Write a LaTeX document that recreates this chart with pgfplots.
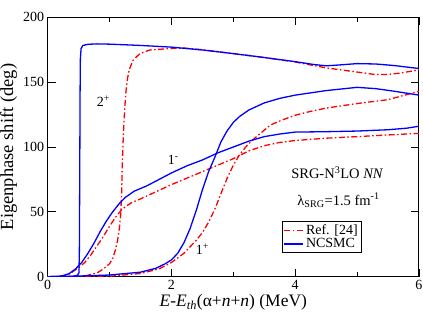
\documentclass[border=0pt]{standalone}
\usepackage{fontspec}
\setmainfont{Liberation Serif}
\usepackage{pgfplots}
\pgfplotsset{compat=1.18}

\begin{document}
\begin{tikzpicture}
\useasboundingbox (-47.7pt,-50.3pt) rectangle (375.3pt,276.7pt);
\begin{axis}[
  scale only axis, width=371.3pt, height=259.4pt,
  at={(0pt,0pt)}, anchor=south west,
  xmin=0, xmax=6, ymin=0, ymax=200,
  xtick={0,2,4,6}, minor xtick={1,3,5},
  ytick={0,50,...,200},
  tick align=inside, major tick length=8pt, minor tick length=4.5pt,
  axis line style={line width=1pt},
  every tick/.style={black, line width=0.8pt},
  tick label style={font=\fontsize{14}{16}\selectfont},
  /pgf/number format/assume math mode=true,
  xlabel={\textit{E}-\textit{E}\textsubscript{\textit{th}}(α+\textit{n}+\textit{n}) (MeV)},
  ylabel={Eigenphase shift (deg)},
  xlabel style={at={(axis description cs:0.5,-0.1157)}, anchor=base, font=\fontsize{17.5}{20}\selectfont},
  ylabel style={at={(axis description cs:-0.105,0.5)}, anchor=center, font=\fontsize{18.5}{20}\selectfont},
  legend style={at={(rel axis cs:0.63,0.216)}, anchor=north west, draw=black, line width=1.2pt,
    font=\fontsize{14}{15}\selectfont, inner sep=1.5pt, row sep=-1.5pt, cells={anchor=west}},
  legend image code/.code={\draw[#1] (0pt,0pt) -- (19pt,0pt);},
  refl/.style={red, line width=1.3pt, dash pattern=on 6pt off 2.5pt on 1.5pt off 2.5pt},
  ncl/.style={blue, line width=1.3pt},
]
% Ref. [24] 2+
\addplot[refl] coordinates {(0,0)(0.4,0.1)(0.6,0.5)(0.8,3)(0.9,6)(1.0,10)(1.05,14)(1.09,20)(1.13,28)(1.16,38)(1.18,48)(1.195,65)(1.205,85)(1.215,100)(1.225,112)(1.245,130)(1.265,143)(1.29,153)(1.32,160)(1.38,167)(1.49,172)(1.65,174.8)(2.0,176)(2.2,176.3)(2.5,175)(3.0,172)(3.5,169)(4.0,165.5)(4.5,161)(5.0,157.8)(5.3,155.8)(5.5,156)(5.7,157)(6.0,159.5)};
\addlegendentry{Ref. [24]}
% Ref. [24] 1-
\addplot[refl, forget plot] coordinates {(0,0)(0.2,0.3)(0.35,2)(0.5,7)(0.6,11)(0.7,17)(0.8,24)(0.9,31)(1.0,39)(1.1,46)(1.2,52)(1.35,57)(1.5,60)(1.75,65.5)(2.0,71)(2.25,76)(2.5,81)(2.75,86)(3.0,91)(3.25,97)(3.5,101)(3.75,103.5)(4.0,105)(4.5,106.8)(5.0,108)(5.5,109.3)(6.0,110.5)};
% Ref. [24] 1+
\addplot[refl, forget plot] coordinates {(0.6,0)(1.0,0.3)(1.5,2.5)(1.8,6)(2.0,11)(2.2,18)(2.4,28)(2.5,34)(2.6,42)(2.7,52)(2.8,64)(2.9,76)(3.0,86)(3.1,94)(3.2,100)(3.3,105)(3.45,111)(3.6,117)(3.8,121)(4.0,124.5)(4.25,127.5)(4.5,130)(5.0,133.5)(5.5,136.5)(6.0,143)};
% NCSMC 2+
\addplot[ncl] coordinates {(0,0)(0.4,0.2)(0.48,1)(0.505,3)(0.512,20)(0.518,80)(0.523,140)(0.528,168)(0.54,176)(0.57,178.3)(0.65,179.2)(0.8,179.5)(1.0,179.3)(1.5,178.3)(2.0,177)(2.5,174.8)(3.0,172)(3.5,169)(4.0,165.8)(4.3,163.6)(4.5,162.6)(4.7,163.2)(5.0,164.3)(5.3,164)(5.6,162.8)(6.0,160.5)};
\addlegendentry{NCSMC}
% NCSMC 1-
\addplot[ncl, forget plot] coordinates {(0,0)(0.15,0.1)(0.25,0.8)(0.35,2.5)(0.45,6)(0.55,11)(0.65,18)(0.75,26)(0.85,35)(0.95,43)(1.05,50)(1.15,56)(1.25,61)(1.4,66)(1.6,70)(1.8,75)(2.0,80)(2.25,85.5)(2.5,90)(2.75,95.5)(3.0,100)(3.25,104.5)(3.5,108)(3.75,110)(4.0,111.5)(4.5,111.8)(5.0,112.3)(5.5,113.3)(5.8,114.5)(6.0,116)};
% NCSMC 1+
\addplot[ncl, forget plot] coordinates {(0,0)(0.5,0.5)(1.0,1.3)(1.5,3.5)(1.75,6.5)(1.9,10)(2.0,13)(2.1,18)(2.2,26)(2.3,37)(2.4,51)(2.5,67)(2.6,81)(2.7,92)(2.8,104)(2.9,112.5)(3.0,119)(3.1,123.5)(3.25,128.5)(3.5,134)(3.75,137.5)(4.0,140)(4.5,143.5)(5.0,146)(5.3,145)(5.6,143)(6.0,140)};
\node[font=\fontsize{14}{16}\selectfont] at (axis cs:0.9,135) {2\textsuperscript{+}};
\node[font=\fontsize{14}{16}\selectfont] at (axis cs:2.03,90) {1\textsuperscript{-}};
\node[font=\fontsize{14}{16}\selectfont] at (axis cs:2.5,21) {1\textsuperscript{+}};
\node[font=\fontsize{14.5}{16}\selectfont] at (axis cs:4.68,80) {SRG-N\textsuperscript{3}LO \textit{NN}};
\node[font=\fontsize{14.5}{16}\selectfont] at (axis cs:4.7,59) {λ\textsubscript{SRG}=1.5 fm\textsuperscript{-1}};
\end{axis}
\end{tikzpicture}
\end{document}
